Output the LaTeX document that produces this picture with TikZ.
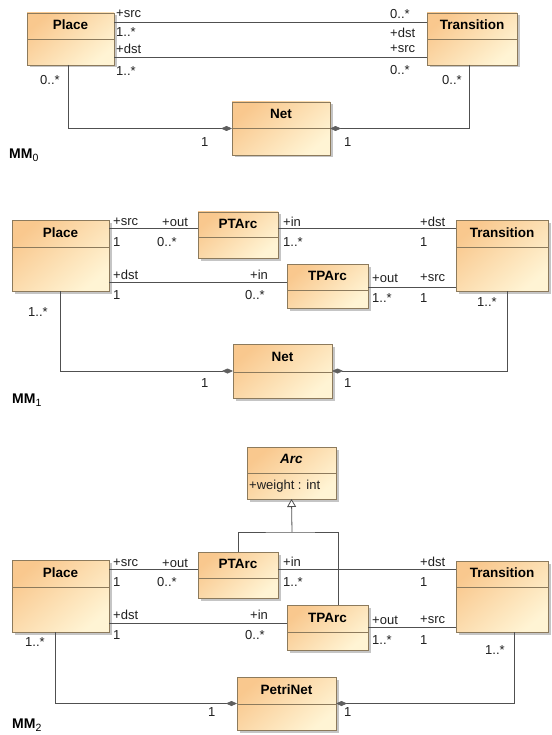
\documentclass[tikz,border=0pt]{standalone}
\usepackage{fontspec}
\setmainfont{Liberation Sans}
\usetikzlibrary{arrows.meta,shadows}
\definecolor{boxborder}{RGB}{140,122,92}
\definecolor{boxdark}{RGB}{249,200,142}
\definecolor{boxlight}{RGB}{255,244,212}
\definecolor{linec}{RGB}{80,80,80}
\definecolor{diamc}{RGB}{95,95,95}
\tikzset{
 classbox/.style={draw=boxborder, line width=0.7pt, top color=boxdark, bottom color=boxlight, shading angle=40,
   drop shadow={shadow xshift=2.5pt, shadow yshift=-2.5pt, fill=black!45, opacity=0.5}, inner sep=0pt, outer sep=0pt},
 divline/.style={draw=boxborder, line width=0.7pt},
 ctitle/.style={font=\fontsize{13.5}{15}\selectfont\bfseries, inner sep=0pt},
 lab/.style={font=\fontsize{13}{15}\selectfont, inner sep=0pt, anchor=west, text=black!88},
 assoc/.style={draw=linec, line width=0.8pt},
 comp/.style={assoc, -{Diamond[fill=diamc, color=diamc, length=11pt, width=5pt]}},
 gen/.style={assoc, -{Triangle[open, fill=white, length=8pt, width=9pt]}},
 mmlabel/.style={font=\fontsize{14}{16}\selectfont\bfseries, inner sep=0pt, anchor=west},
}
\newcommand\umlclass[7]{%
 \node[classbox, minimum width={(#4-#2)*1pt}, minimum height={(#5-#3)*1pt}] (#1) at ({(#2+#4)/2},{(#3+#5)/2}) {};
 \draw[divline] (#1.west |- 0,#6) -- (#1.east |- 0,#6);
 \node[ctitle] (#1-t) at ({(#2+#4)/2},{(#3+#6)/2-1}) {#7};
}
\newcommand\mmsub[1]{\raisebox{-2.5pt}{\fontsize{10.5}{12}\selectfont\mdseries #1}}
\begin{document}
\begin{tikzpicture}[x=1pt,y=-1pt]
\useasboundingbox (0,0) rectangle (551,735);
% ---------------- MM0 ----------------
\umlclass{place0}{27}{13}{114}{65}{39}{Place}
\umlclass{trans0}{427}{13}{517}{65}{39}{Transition}
\umlclass{net0}{232}{102}{330}{155}{128}{Net}
\draw[assoc] (place0.east |- 0,22) -- (trans0.west |- 0,22);
\draw[assoc] (place0.east |- 0,57) -- (trans0.west |- 0,57);
\draw[comp] (place0.south -| 68,0) |- (net0.west);
\draw[comp] (trans0.south -| 469,0) |- (net0.east);
\node[lab] (a01) at (116,14) {+src};
\node[lab] (a02) at (116,32) {1..*};
\node[lab] (a03) at (116,49) {+dst};
\node[lab] (a04) at (116,71) {1..*};
\node[lab] (a05) at (390,14) {0..*};
\node[lab] (a06) at (390,33) {+dst};
\node[lab] (a07) at (390,49) {+src};
\node[lab] (a08) at (390,70) {0..*};
\node[lab] (a09) at (40,80) {0..*};
\node[lab] (a10) at (442,80) {0..*};
\node[lab] (a11) at (201,142) {1};
\node[lab] (a12) at (344,142) {1};
\node[mmlabel] (mm0) at (9,155) {MM\mmsub{0}};
% ---------------- MM1 ----------------
\umlclass{place1}{12}{220}{109}{291}{247}{Place}
\umlclass{ptarc1}{198}{212}{278}{258}{237}{PTArc}
\umlclass{tparc1}{287}{264}{368}{308}{290}{TPArc}
\umlclass{trans1}{456}{220}{548}{291}{247}{Transition}
\umlclass{net1}{233}{344}{332}{398}{372}{Net}
\draw[assoc] (place1.east |- 0,228) -- (ptarc1.west |- 0,228);
\draw[assoc] (ptarc1.east |- 0,228) -- (trans1.west |- 0,228);
\draw[assoc] (place1.east |- 0,282) -- (tparc1.west |- 0,282);
\draw[assoc] (tparc1.east |- 0,287) -- (trans1.west |- 0,287);
\draw[comp] (place1.south -| 60,0) |- (net1.west);
\draw[comp] (trans1.south -| 507,0) |- (net1.east);
\node[lab] (b01) at (113,222) {+src};
\node[lab] (b02) at (162,222) {+out};
\node[lab] (b03) at (113,242) {1};
\node[lab] (b04) at (157,242) {0..*};
\node[lab] (b05) at (113,275) {+dst};
\node[lab] (b06) at (113,295) {1};
\node[lab] (b07) at (250,275) {+in};
\node[lab] (b08) at (245,295) {0..*};
\node[lab] (b09) at (283,222) {+in};
\node[lab] (b10) at (283,242) {1..*};
\node[lab] (b11) at (420,222) {+dst};
\node[lab] (b12) at (420,242) {1};
\node[lab] (b13) at (372,278) {+out};
\node[lab] (b14) at (372,298) {1..*};
\node[lab] (b15) at (420,278) {+src};
\node[lab] (b16) at (420,298) {1};
\node[lab] (b17) at (28,312) {1..*};
\node[lab] (b18) at (477,302) {1..*};
\node[lab] (b19) at (201,383) {1};
\node[lab] (b20) at (344,383) {1};
\node[mmlabel] (mm1) at (12,400) {MM\mmsub{1}};
% ---------------- MM2 ----------------
\umlclass{arc2}{247}{447}{336}{499}{473}{\itshape Arc}
\node[lab] (arcattr) at (249,486) {+weight : int};
\umlclass{ptarc2}{198}{552}{278}{598}{578}{PTArc}
\umlclass{place2}{12}{560}{109}{632}{587}{Place}
\umlclass{tparc2}{287}{605}{368}{650}{632}{TPArc}
\umlclass{trans2}{456}{561}{548}{632}{587}{Transition}
\umlclass{petri2}{237}{677}{336}{730}{704}{PetriNet}
\coordinate (gen2) at (292,532);
\draw[gen] (gen2) -- (arc2.south);
\draw[assoc] (ptarc2.north) |- (gen2) -| ([xshift=11pt]tparc2.north);
\draw[assoc] (place2.east |- 0,569) -- (ptarc2.west |- 0,569);
\draw[assoc] (ptarc2.east |- 0,569) -- (trans2.west |- 0,569);
\draw[assoc] (place2.east |- 0,623) -- (tparc2.west |- 0,623);
\draw[assoc] (tparc2.east |- 0,627) -- (trans2.west |- 0,627);
\draw[comp] (place2.south -| 55,0) |- (petri2.west);
\draw[comp] (trans2.south -| 514,0) |- (petri2.east);
\node[lab] (c01) at (113,563) {+src};
\node[lab] (c02) at (162,563) {+out};
\node[lab] (c03) at (113,582) {1};
\node[lab] (c04) at (157,582) {0..*};
\node[lab] (c05) at (113,615) {+dst};
\node[lab] (c06) at (113,635) {1};
\node[lab] (c07) at (250,615) {+in};
\node[lab] (c08) at (245,635) {0..*};
\node[lab] (c09) at (283,562) {+in};
\node[lab] (c10) at (283,582) {1..*};
\node[lab] (c11) at (420,562) {+dst};
\node[lab] (c12) at (420,582) {1};
\node[lab] (c13) at (372,620) {+out};
\node[lab] (c14) at (372,640) {1..*};
\node[lab] (c15) at (420,620) {+src};
\node[lab] (c16) at (420,640) {1};
\node[lab] (c17) at (25,642) {1..*};
\node[lab] (c18) at (485,650) {1..*};
\node[lab] (c19) at (208,712) {1};
\node[lab] (c20) at (344,712) {1};
\node[mmlabel] (mm2) at (12,725) {MM\mmsub{2}};
\end{tikzpicture}
\end{document}
